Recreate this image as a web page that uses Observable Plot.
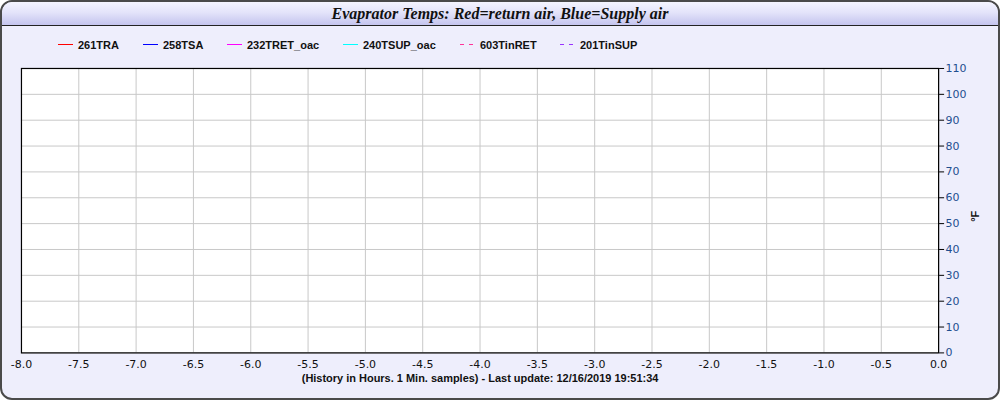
<!DOCTYPE html>
<html>
<head>
<meta charset="utf-8">
<script src="https://cdn.jsdelivr.net/npm/d3@7"></script>
<script src="https://cdn.jsdelivr.net/npm/@observablehq/plot@0.6"></script>
<style>
  html, body { margin: 0; padding: 0; background: #ffffff; }
  #frame {
    position: absolute; left: 0; top: 0; width: 996px; height: 396px;
    border: 2px solid #4a4a4a; border-radius: 12px; background: #eeeefc; overflow: hidden;
  }
  #titlebar {
    position: absolute; left: 0; top: 0; width: 996px; height: 23px;
    background: linear-gradient(#f4f4ff, #e4e4fa 45%, #c4c4ee);
    border-bottom: 1px solid #222;
    font: italic bold 16px "Liberation Serif", serif; color: #111;
    text-align: center; line-height: 24px;
  }
  #legend { position: absolute; top: 36px; left: 0; height: 16px; font: bold 11px "Liberation Sans", Arial, sans-serif; color: #111; }
  .item { position: absolute; top: 0; white-space: nowrap; line-height: 14px; }
  .swatch { position: absolute; left: 0; top: 6px; width: 15px; height: 1px; }
  .label { position: absolute; left: 20px; top: 0; }
  #chart { position: absolute; left: -2px; top: 56px; }
</style>
</head>
<body>
<div id="frame">
  <div id="titlebar">Evaprator Temps: Red=return air, Blue=Supply air</div>
  <div id="legend"></div>
  <div id="chart"></div>
</div>
<script>
const seriesNames = ["261TRA", "258TSA", "232TRET_oac", "240TSUP_oac", "603TinRET", "201TinSUP"];
const seriesColors = ["#ff0000", "#0000ff", "#ff00ff", "#00ffff", "#ff3399", "#9933ff"];
const seriesDashed = [false, false, false, false, true, true];
const legendX = [56, 141, 225, 341, 458, 558];
// No samples are shown in the reference: every series is empty
const seriesHours = [[], [], [], [], [], []];
const seriesTemps = [[], [], [], [], [], []];
const xTicks = [-8, -7.5, -7, -6.5, -6, -5.5, -5, -4.5, -4, -3.5, -3, -2.5, -2, -1.5, -1, -0.5, 0];
const yTicks = [0, 10, 20, 30, 40, 50, 60, 70, 80, 90, 100, 110];
const xLabel = "(History in Hours. 1 Min. samples) - Last update: 12/16/2019 19:51:34";
const yLabel = "°F";

// legend
const legend = document.getElementById("legend");
seriesNames.forEach((name, i) => {
  const d = document.createElement("div");
  d.className = "item";
  d.style.left = legendX[i] + "px";
  const sw = document.createElement("div");
  sw.className = "swatch";
  sw.style.background = seriesDashed[i]
    ? `repeating-linear-gradient(to right, ${seriesColors[i]} 0 4px, transparent 4px 9px)`
    : seriesColors[i];
  const lb = document.createElement("span");
  lb.className = "label";
  lb.textContent = name;
  d.appendChild(sw);
  d.appendChild(lb);
  legend.appendChild(d);
});

const rows = [];
seriesNames.forEach((name, i) => seriesHours[i].forEach((h, j) => rows.push({series: name, h, t: seriesTemps[i][j]})));

const lineMarks = seriesNames.map((name, i) =>
  Plot.line(rows.filter(r => r.series === name), {x: "h", y: "t", stroke: seriesColors[i], strokeDasharray: seriesDashed[i] ? "5,5" : null})
);

const chart = Plot.plot({
  width: 1000,
  height: 340,
  marginTop: 10,
  marginBottom: 45,
  marginLeft: 21,
  marginRight: 60,
  style: {background: "transparent", fontFamily: "'DejaVu Sans', Verdana, sans-serif", fontSize: "11px"},
  x: {domain: [-8, 0], ticks: xTicks, tickFormat: d => d.toFixed(1), label: null},
  y: {domain: [0, 110], ticks: yTicks, label: null},
  marks: [
    Plot.frame({fill: "white"}),
    Plot.gridX(xTicks, {stroke: "#c8c8c8", strokeOpacity: 1}),
    Plot.gridY(yTicks, {stroke: "#c8c8c8", strokeOpacity: 1}),
    ...lineMarks,
    Plot.axisX(xTicks, {tickSize: 0, tickPadding: 7, tickFormat: d => d.toFixed(1), fill: "#111", fontSize: 11}),
    Plot.axisY(yTicks, {anchor: "right", tickSize: 5, tickPadding: 2, stroke: "#000", fill: "#1f4f8f", fontSize: 11}),
    Plot.text([xLabel], {frameAnchor: "bottom", dy: 29, fontWeight: "bold", fontFamily: "'Liberation Sans', Arial, sans-serif", fontSize: 11, fill: "#111"}),
    Plot.text([yLabel], {frameAnchor: "right", dx: 37, rotate: -90, fontWeight: "bold", fontFamily: "'Liberation Sans', Arial, sans-serif", fontSize: 11, fill: "#111"}),
    Plot.frame({stroke: "#000", strokeWidth: 1.2})
  ]
});
document.getElementById("chart").appendChild(chart);
</script>
</body>
</html>
